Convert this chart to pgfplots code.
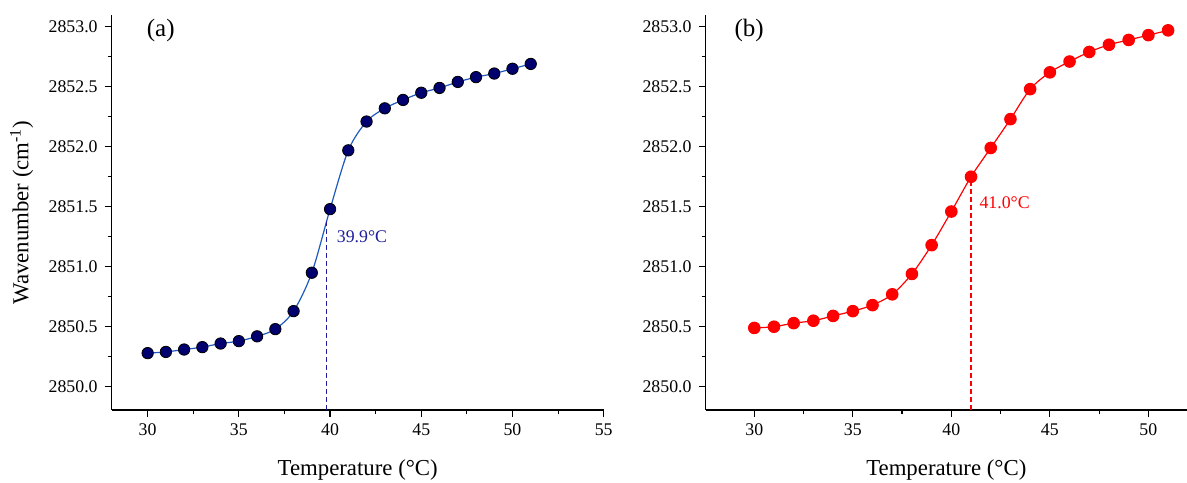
\documentclass[border=0pt]{standalone}
\usepackage{fontspec}
\setmainfont{Liberation Serif}
\usepackage{pgfplots}
\pgfplotsset{compat=1.18}
\definecolor{navym}{RGB}{0,0,110}
\definecolor{lineb}{RGB}{30,90,190}
\definecolor{labb}{RGB}{30,30,160}
\definecolor{redm}{RGB}{255,0,0}
\pgfplotsset{
  panel/.style={
    scale only axis, height=197.5pt,
    axis x line*=bottom, axis y line*=left,
    axis line style={-, line width=0.75pt},
    ymin=2849.806, ymax=2853.098,
    ytick={2850,2850.5,2851,2851.5,2852,2852.5,2853},
    minor y tick num=1, minor x tick num=1,
    tick align=outside, major tick length=3.5pt, minor tick length=2pt,
    every tick/.style={black, line width=0.6pt},
    /pgf/number format/assume math mode=true,
    y tick label style={/pgf/number format/fixed, /pgf/number format/fixed zerofill, /pgf/number format/precision=1, /pgf/number format/1000 sep={}},
    tick label style={font=\fontsize{8.9}{10}\selectfont},
    label style={font=\fontsize{11.4}{13}\selectfont},
    xlabel={Temperature (°C)},
    xlabel style={at={(axis description cs:0.5,0)}, anchor=center, yshift=-30pt},
  }
}
\begin{document}
\begin{tikzpicture}
\useasboundingbox (-55.85pt,-36pt) rectangle (537.65pt,205pt);
\begin{axis}[panel, at={(0pt,0pt)}, anchor=south west, width=246pt,
  xmin=28.03, xmax=55, xtick={30,35,40,45,50,55},
  ylabel={Wavenumber (cm\textsuperscript{-1})},
  ylabel style={at={(axis description cs:-0.183,0.5)}, anchor=center}]
\addplot[lineb, line width=0.6pt, smooth, mark=*, mark size=2.85pt,
  mark options={fill=navym, draw=black, line width=0.4pt, solid}] coordinates {
(30,2850.28) (31,2850.29) (32,2850.31) (33,2850.33) (34,2850.36) (35,2850.38)
(36,2850.42) (37,2850.48) (38,2850.63) (39,2850.95) (40,2851.48) (41,2851.97)
(42,2852.21) (43,2852.32) (44,2852.39) (45,2852.45) (46,2852.49) (47,2852.54)
(48,2852.58) (49,2852.61) (50,2852.65) (51,2852.69)};
\addplot[labb, line width=0.5pt, dash pattern=on 2.5pt off 1.5pt] coordinates {(39.8,2849.806) (39.8,2851.39)};
\node[text=labb, anchor=west, font=\fontsize{8.9}{10}\selectfont, inner sep=0pt] at (axis cs:40.35,2851.25) {39.9°C};
\node[anchor=center, font=\fontsize{12.5}{14}\selectfont, inner sep=0pt] at (axis cs:30.72,2852.97) {(a)};
\end{axis}
\begin{axis}[panel, at={(296.95pt,0pt)}, anchor=south west, width=240.7pt,
  xmin=27.53, xmax=51.96, xtick={30,35,40,45,50}]
\addplot[redm, line width=0.6pt, smooth, mark=*, mark size=2.85pt,
  mark options={fill=redm, draw=redm, solid}] coordinates {
(30,2850.49) (31,2850.50) (32,2850.53) (33,2850.55) (34,2850.59) (35,2850.63)
(36,2850.68) (37,2850.77) (38,2850.94) (39,2851.18) (40,2851.46) (41,2851.75)
(42,2851.99) (43,2852.23) (44,2852.48) (45,2852.62) (46,2852.71) (47,2852.79)
(48,2852.85) (49,2852.89) (50,2852.93) (51,2852.97)};
\addplot[redm, line width=0.6pt, dash pattern=on 2.5pt off 1.5pt] coordinates {(41.0,2849.806) (41.0,2851.70)};
\node[text=redm, anchor=west, font=\fontsize{8.9}{10}\selectfont, inner sep=0pt] at (axis cs:41.41,2851.53) {41.0°C};
\node[anchor=center, font=\fontsize{12.5}{14}\selectfont, inner sep=0pt] at (axis cs:29.74,2852.97) {(b)};
\end{axis}
\end{tikzpicture}
\end{document}
